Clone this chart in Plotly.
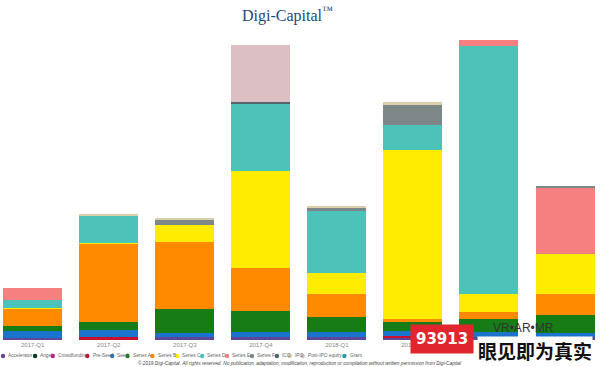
import plotly.graph_objects as go

quarters = ["2017-Q1", "2017-Q2", "2017-Q3", "2017-Q4", "2018-Q1", "2018-Q2", "2018-Q3", "2018-Q4"]

series_names = ["Accelerator", "Angel", "Crowdfunding", "Pre-Seed", "Seed", "Series A", "Series B",
                "Series C", "Series D", "Series E", "Series F", "ICO", "IPO", "Post-IPO equity", "Grant"]

accelerator = [25, 0, 27, 33, 33, 20, 33, 27]
angel = [0, 0, 0, 0, 0, 0, 0, 0]
crowdfunding = [0, 0, 0, 0, 0, 0, 0, 0]
pre_seed = [0, 33, 0, 0, 0, 20, 0, 0]
seed = [70, 67, 46, 50, 50, 50, 50, 46]
series_a = [45, 83, 234, 210, 150, 93, 124, 177]
series_b = [170, 777, 670, 424, 227, 27, 76, 207]
series_c = [10, 13, 173, 970, 213, 1690, 177, 403]
series_d = [80, 270, 0, 680, 620, 250, 2480, 0]
series_e = [120, 0, 0, 0, 0, 0, 60, 667]
series_f = [0, 0, 50, 0, 24, 200, 0, 13]
ico = [0, 0, 0, 17, 0, 0, 0, 0]
ipo = [0, 10, 15, 0, 23, 30, 0, 0]
post_ipo = [0, 0, 0, 567, 0, 0, 0, 0]
grant = [0, 0, 0, 0, 0, 0, 0, 0]

values = [accelerator, angel, crowdfunding, pre_seed, seed, series_a, series_b, series_c,
          series_d, series_e, series_f, ico, ipo, post_ipo, grant]

colors = ["#5e4596", "#0b3b1c", "#c4198c", "#c8102e", "#1b74cc", "#167d16", "#ff8a00",
          "#ffec00", "#4cc3b8", "#f68080", "#7d8787", "#56656c", "#d9cdaa", "#dcbfc3", "#2f9ca2"]

fig = go.Figure()
for name, vals, col in zip(series_names, values, colors):
    fig.add_trace(go.Bar(x=quarters, y=vals, name=name, marker=dict(color=col, line=dict(width=0)),
                         showlegend=False, hoverinfo="skip"))

W, H = 600, 367
plot_top, plot_bottom = 40, 340
ph = plot_bottom - plot_top

def py(pixel_y):
    return (plot_bottom - pixel_y) / ph

shapes = []
annotations = []

# custom compact legend (dots + labels), spaced by approximate text width
x = 3.0
ly = 356
for name, col in zip(series_names, colors):
    r = 2.2
    shapes.append(dict(type="circle", xref="paper", yref="paper",
                       x0=(x - r) / W, x1=(x + r) / W, y0=py(ly + r), y1=py(ly - r),
                       fillcolor=col, line=dict(width=0)))
    annotations.append(dict(text=name, xref="paper", yref="paper", x=(x + 3.2) / W, y=py(ly),
                            xanchor="left", yanchor="middle", showarrow=False,
                            font=dict(size=4.8, color="#666666", family="Liberation Sans")))
    x += 5.7 + len(name) * 2.4

annotations.append(dict(text="<i>© 2019 Digi-Capital. All rights reserved. No publication, adaptation, modification, reproduction or compilation without written permission from Digi-Capital</i>",
                        xref="paper", yref="paper", x=0.5, y=py(363), xanchor="center", yanchor="middle",
                        showarrow=False, font=dict(size=4.8, color="#444444", family="Liberation Sans")))

annotations.append(dict(text="Digi-Capital<sup style='font-size:5px'>™</sup>", xref="paper", yref="paper",
                        x=287 / W, y=py(14), xanchor="center", yanchor="middle", showarrow=False,
                        font=dict(size=16, color="#24457e", family="Liberation Serif")))

# watermark overlay
annotations.append(dict(text="<b>93913</b>", xref="paper", yref="paper", x=442 / W, y=py(339),
                        xanchor="center", yanchor="middle", showarrow=False, bgcolor="#e0262c",
                        borderpad=5, font=dict(size=15, color="#ffffff", family="DejaVu Sans")))
annotations.append(dict(text="VR•AR•MR", xref="paper", yref="paper", x=523 / W, y=py(328),
                        xanchor="center", yanchor="middle", showarrow=False,
                        font=dict(size=12, color="#333333", family="Liberation Sans")))
annotations.append(dict(text="<b>眼见即为真实</b>", xref="paper", yref="paper", x=535 / W, y=py(350),
                        xanchor="center", yanchor="middle", showarrow=False, bgcolor="#ffffff",
                        borderpad=0,
                        font=dict(size=19, color="#111111", family="Noto Sans CJK SC")))

fig.update_layout(
    barmode="stack",
    bargap=0.224,
    width=W, height=H,
    margin=dict(l=0, r=0, t=plot_top, b=H - plot_bottom),
    plot_bgcolor="white", paper_bgcolor="white",
    xaxis=dict(range=[-0.43, 7.46], showgrid=False, showline=False, zeroline=False,
               tickfont=dict(size=6, color="#888888", family="Liberation Sans"), ticks=""),
    yaxis=dict(range=[0, 3000], visible=False),
    shapes=shapes,
    annotations=annotations,
)

fig.write_html("out.html", config={"displayModeBar": False},
               post_script="document.body.style.margin='0';document.body.style.padding='0';")
